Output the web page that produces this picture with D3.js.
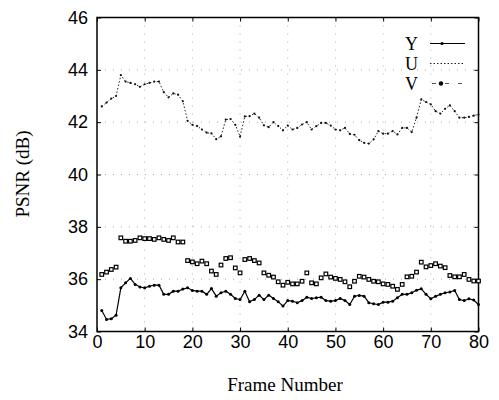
<!DOCTYPE html>
<html>
<head>
<meta charset="utf-8">
<script src="https://cdn.jsdelivr.net/npm/d3@7/dist/d3.min.js"></script>
<style>
  body { margin: 0; background: #fff; }
  svg { display: block; }
</style>
</head>
<body>
<div id="wrapper"></div>
<script>
// data (frames 1..80)
const frames = [1,2,3,4,5,6,7,8,9,10,11,12,13,14,15,16,17,18,19,20,
  21,22,23,24,25,26,27,28,29,30,31,32,33,34,35,36,37,38,39,40,
  41,42,43,44,45,46,47,48,49,50,51,52,53,54,55,56,57,58,59,60,
  61,62,63,64,65,66,67,68,69,70,71,72,73,74,75,76,77,78,79,80]

const psnrY = [34.80,34.46,34.49,34.62,35.67,35.86,36.03,35.80,35.70,35.67,
  35.73,35.77,35.77,35.42,35.42,35.54,35.54,35.62,35.67,35.57,
  35.54,35.54,35.42,35.64,35.35,35.48,35.54,35.42,35.26,35.22,
  35.54,35.14,35.22,35.39,35.22,35.39,35.26,35.14,34.97,35.18,
  35.16,35.10,35.18,35.31,35.26,35.29,35.31,35.18,35.16,35.18,
  35.26,35.18,35.03,35.35,35.38,35.35,35.10,35.06,35.03,35.12,
  35.12,35.16,35.29,35.42,35.42,35.48,35.58,35.63,35.42,35.25,
  35.35,35.42,35.48,35.51,35.57,35.22,35.18,35.25,35.20,35.03]

const psnrU = [42.60,42.75,42.90,43.00,43.80,43.55,43.50,43.45,43.35,43.45,
  43.50,43.55,43.55,43.15,42.95,43.10,43.05,42.80,42.05,41.90,
  41.85,41.72,41.60,41.57,41.35,41.46,42.10,42.12,41.90,41.45,
  42.22,42.23,42.33,42.17,41.88,41.81,42.00,41.85,41.69,41.87,
  41.72,41.78,41.91,42.00,41.72,41.85,41.97,41.97,41.87,41.72,
  41.69,41.78,41.55,41.52,41.31,41.21,41.18,41.34,41.66,41.56,
  41.56,41.66,41.53,41.78,41.78,41.62,42.17,42.87,42.77,42.68,
  42.42,42.33,42.51,42.64,42.42,42.17,42.17,42.20,42.25,42.29]

const psnrV = [36.18,36.27,36.37,36.46,37.58,37.45,37.45,37.48,37.58,37.55,
  37.55,37.52,37.58,37.52,37.48,37.58,37.42,37.42,36.71,36.66,
  36.59,36.69,36.59,36.31,36.18,36.54,36.79,36.82,36.43,36.24,
  36.75,36.79,36.71,36.62,36.24,36.15,36.08,35.90,35.77,35.88,
  35.82,35.82,35.92,36.24,35.86,35.82,36.05,36.20,36.08,36.03,
  35.99,35.90,35.71,35.92,36.11,36.08,35.99,35.92,35.90,35.82,
  35.80,35.73,35.61,35.80,36.09,36.11,36.27,36.65,36.47,36.52,
  36.59,36.50,36.44,36.14,36.09,36.09,36.18,35.99,35.93,35.93]

const xTicks = [0,10,20,30,40,50,60,70,80]
const yTicks = [34,36,38,40,42,44,46]
const seriesNames = ["Y","U","V"]

// dimensions
let dimensions = {
  width: 499,
  height: 400,
  margin: { top: 17.5, right: 20.5, bottom: 68.5, left: 97 },
}
dimensions.boundedWidth = dimensions.width - dimensions.margin.left - dimensions.margin.right
dimensions.boundedHeight = dimensions.height - dimensions.margin.top - dimensions.margin.bottom

const sans = "'Liberation Sans', Arial, sans-serif"
const serif = "'Liberation Serif', 'Times New Roman', serif"

const wrapper = d3.select("#wrapper")
  .append("svg")
  .attr("width", dimensions.width)
  .attr("height", dimensions.height)

const bounds = wrapper.append("g")
  .attr("transform", `translate(${dimensions.margin.left},${dimensions.margin.top})`)

// scales
const xScale = d3.scaleLinear().domain([0, 80]).range([0, dimensions.boundedWidth])
const yScale = d3.scaleLinear().domain([34, 46]).range([dimensions.boundedHeight, 0])

// grid (sparse, faint dots)
const grid = bounds.append("g")
  .attr("stroke", "#aaa")
  .attr("stroke-width", 1)
  .attr("stroke-dasharray", "1,7")
grid.selectAll(".vgrid")
  .data(xTicks.slice(1, -1))
  .join("line")
  .attr("x1", d => xScale(d)).attr("x2", d => xScale(d))
  .attr("y1", 0).attr("y2", dimensions.boundedHeight)
grid.selectAll(".hgrid")
  .data(yTicks.slice(1, -1))
  .join("line")
  .attr("y1", d => yScale(d)).attr("y2", d => yScale(d))
  .attr("x1", 0).attr("x2", dimensions.boundedWidth)

// axes
const styleAxis = g => {
  g.select(".domain").remove()
  g.selectAll(".tick line").attr("stroke", "#000").attr("stroke-width", 1)
  g.selectAll("text").attr("fill", "#000").style("font-family", sans).style("font-size", "18px")
}

bounds.append("g")
  .attr("transform", `translate(0,${dimensions.boundedHeight})`)
  .call(d3.axisBottom(xScale).tickValues(xTicks).tickSize(-4).tickPadding(4).tickFormat(d3.format("d")))
  .call(styleAxis)

bounds.append("g")
  .call(d3.axisLeft(yScale).tickValues(yTicks).tickSize(-4).tickPadding(9).tickFormat(d3.format("d")))
  .call(styleAxis)

bounds.append("g")
  .call(d3.axisTop(xScale).tickValues(xTicks).tickSize(-4).tickFormat(""))
  .call(styleAxis)

bounds.append("g")
  .attr("transform", `translate(${dimensions.boundedWidth},0)`)
  .call(d3.axisRight(yScale).tickValues(yTicks).tickSize(-4).tickFormat(""))
  .call(styleAxis)

// frame
bounds.append("rect")
  .attr("width", dimensions.boundedWidth)
  .attr("height", dimensions.boundedHeight)
  .attr("fill", "none")
  .attr("stroke", "#000")
  .attr("stroke-width", 1.5)

// lines
const lineGen = vals => d3.line()
  .x((d, i) => xScale(frames[i]))
  .y(d => yScale(d))(vals)

// U : dotted line with small dots
bounds.append("path")
  .attr("d", lineGen(psnrU))
  .attr("fill", "none")
  .attr("stroke", "#222")
  .attr("stroke-width", 1)
  .attr("stroke-dasharray", "1.5,2")
bounds.append("g").selectAll("circle")
  .data(psnrU)
  .join("circle")
  .attr("cx", (d, i) => xScale(frames[i]))
  .attr("cy", d => yScale(d))
  .attr("r", 1.1)
  .attr("fill", "#111")

// Y : solid line with dots
bounds.append("path")
  .attr("d", lineGen(psnrY))
  .attr("fill", "none")
  .attr("stroke", "#000")
  .attr("stroke-width", 1.2)
bounds.append("g").selectAll("circle")
  .data(psnrY)
  .join("circle")
  .attr("cx", (d, i) => xScale(frames[i]))
  .attr("cy", d => yScale(d))
  .attr("r", 1.5)
  .attr("fill", "#000")

// V : small squares
const sq = 3.6
bounds.append("g").selectAll("rect")
  .data(psnrV)
  .join("rect")
  .attr("x", (d, i) => xScale(frames[i]) - sq / 2)
  .attr("y", d => yScale(d) - sq / 2)
  .attr("width", sq)
  .attr("height", sq)
  .attr("fill", "#fff")
  .attr("stroke", "#000")
  .attr("stroke-width", 1.2)

// legend
const legend = wrapper.append("g")
legend.selectAll("text")
  .data(seriesNames)
  .join("text")
  .attr("x", 411.5)
  .attr("y", (d, i) => 49.5 + i * 20)
  .attr("text-anchor", "middle")
  .style("font-family", serif)
  .style("font-size", "18px")
  .text(d => d)

legend.append("line")
  .attr("x1", 430).attr("x2", 465).attr("y1", 43.5).attr("y2", 43.5)
  .attr("stroke", "#000").attr("stroke-width", 1.2)
legend.append("circle").attr("cx", 442).attr("cy", 43.5).attr("r", 1.6).attr("fill", "#000")

legend.append("line")
  .attr("x1", 430).attr("x2", 465).attr("y1", 63.5).attr("y2", 63.5)
  .attr("stroke", "#222").attr("stroke-width", 1).attr("stroke-dasharray", "1.5,2")

legend.append("line")
  .attr("x1", 432).attr("x2", 465).attr("y1", 83.5).attr("y2", 83.5)
  .attr("stroke", "#555").attr("stroke-width", 1).attr("stroke-dasharray", "4,9")
legend.append("circle").attr("cx", 441).attr("cy", 83.5).attr("r", 2.2).attr("fill", "#000")

// axis titles
wrapper.append("text")
  .attr("x", 285)
  .attr("y", 391)
  .attr("text-anchor", "middle")
  .style("font-family", serif)
  .style("font-size", "19px")
  .text("Frame Number")

wrapper.append("text")
  .attr("transform", "translate(29,174) rotate(-90)")
  .attr("text-anchor", "middle")
  .style("font-family", serif)
  .style("font-size", "19px")
  .text("PSNR (dB)")
</script>
</body>
</html>
